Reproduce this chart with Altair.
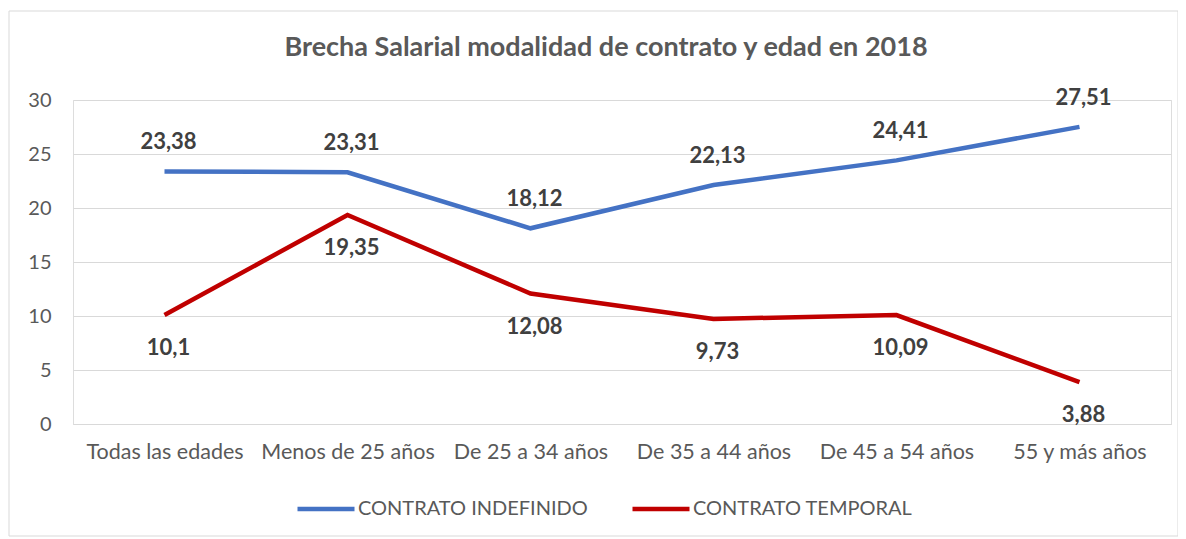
import altair as alt
import pandas as pd

categories = ["Todas las edades", "Menos de 25 años", "De 25 a 34 años",
              "De 35 a 44 años", "De 45 a 54 años", "55 y más años"]
indefinido = [23.38, 23.31, 18.12, 22.13, 24.41, 27.51]
temporal = [10.1, 19.35, 12.08, 9.73, 10.09, 3.88]
series = ["CONTRATO INDEFINIDO", "CONTRATO TEMPORAL"]
title_text = "Brecha Salarial modalidad de contrato y edad en 2018"

rows = []
for c, v in zip(categories, indefinido):
    rows.append({"cat": c, "value": v, "serie": series[0]})
for c, v in zip(categories, temporal):
    rows.append({"cat": c, "value": v, "serie": series[1]})
df = pd.DataFrame(rows)

FONT = "Lato"
GRAY = "#595959"

x = alt.X("cat:N", sort=categories, title=None,
          scale=alt.Scale(type="point", padding=0.5),
          axis=alt.Axis(labelAngle=0, labelFontSize=21.5, labelColor=GRAY,
                        labelFont=FONT, ticks=False, domainColor="#d9d9d9",
                        labelPadding=17, grid=False, labelLimit=300))
y = alt.Y("value:Q", title=None,
          scale=alt.Scale(domain=[0, 30]),
          axis=alt.Axis(values=[0, 5, 10, 15, 20, 25, 30], labelFontSize=20,
                        labelColor=GRAY, labelFont=FONT, ticks=False, domain=False,
                        gridColor="#d9d9d9", labelPadding=22))

color = alt.Color("serie:N", title=None,
                  scale=alt.Scale(domain=series, range=["#4472C4", "#C00000"]),
                  legend=alt.Legend(orient="none", legendX=222, legendY=378,
                                    direction="horizontal", symbolType="stroke",
                                    symbolStrokeWidth=4.5, symbolSize=3249,
                                    labelFontSize=20, labelColor=GRAY, labelFont=FONT,
                                    columnPadding=35, labelOffset=1, labelLimit=400))

base = alt.Chart(df)

border = alt.Chart(pd.DataFrame({"a": [0]})).mark_rect(
    fill=None, stroke="#d9d9d9", strokeWidth=1
).encode(x=alt.value(-64), x2=alt.value(1105), y=alt.value(-89), y2=alt.value(436))

title = alt.Chart(pd.DataFrame({"t": [title_text]})).mark_text(
    fontSize=27, fontWeight="bold", color=GRAY, font=FONT,
    align="center", baseline="middle"
).encode(x=alt.value(533), y=alt.value(-52), text="t:N")

lines = base.mark_line(strokeWidth=4.5).encode(x=x, y=y, color=color)

label_expr = "replace(toString(datum.value), '.', ',')"
txt_ind = base.transform_filter(alt.datum.serie == series[0]).transform_calculate(
    lab=label_expr).mark_text(dy=-29, dx=4, fontSize=22, fontWeight="bold",
                              font=FONT, color="#404040").encode(
    x=alt.X("cat:N", sort=categories), y="value:Q", text="lab:N")
txt_tem = base.transform_filter(alt.datum.serie == series[1]).transform_calculate(
    lab=label_expr).mark_text(dy=33, dx=4, fontSize=22, fontWeight="bold",
                              font=FONT, color="#404040").encode(
    x=alt.X("cat:N", sort=categories), y="value:Q", text="lab:N")

chart = alt.layer(border, title, lines, txt_ind, txt_tem).properties(
    width=1098, height=324,
    autosize=alt.AutoSizeParams(type="none"),
    padding={"left": 65, "top": 92, "right": 7, "bottom": 115},
).configure_view(stroke=None).configure(background="white")

chart.save("out.html", embed_options={"renderer": "svg", "actions": False})
